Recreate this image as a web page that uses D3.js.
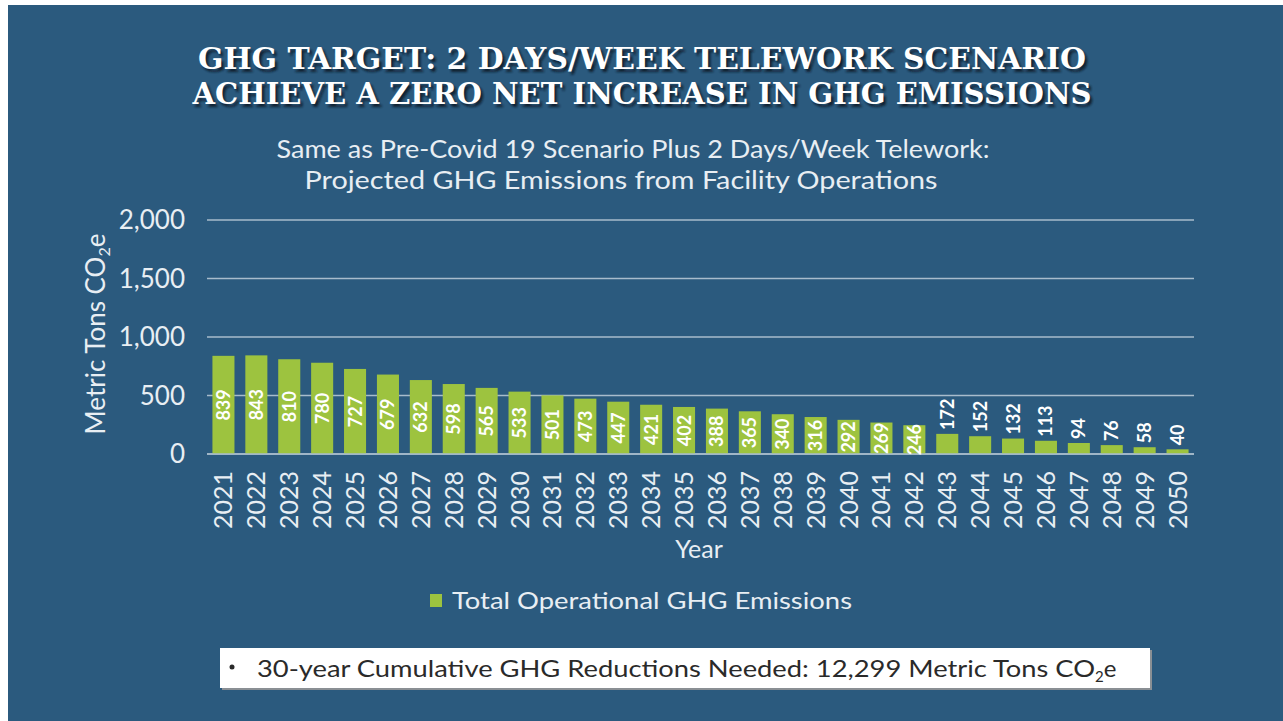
<!DOCTYPE html>
<html><head><meta charset="utf-8">
<script src="https://cdn.jsdelivr.net/npm/d3@7"></script>
<style>
html,body{margin:0;padding:0;background:#fff;}
svg{display:block;}
</style></head>
<body>
<script>
const years = ["2021","2022","2023","2024","2025","2026","2027","2028","2029","2030","2031","2032","2033","2034","2035","2036","2037","2038","2039","2040","2041","2042","2043","2044","2045","2046","2047","2048","2049","2050"];
const emissions = [839,843,810,780,727,679,632,598,565,533,501,473,447,421,402,388,365,340,316,292,269,246,172,152,132,113,94,76,58,40];
const yTicks = [0,500,1000,1500,2000];
const titleLines = ["GHG TARGET: 2 DAYS/WEEK TELEWORK SCENARIO","ACHIEVE A ZERO NET INCREASE IN GHG EMISSIONS"];
const subtitleLines = ["Same as Pre-Covid 19 Scenario Plus 2 Days/Week Telework:","Projected GHG Emissions from Facility Operations"];
const seriesName = "Total Operational GHG Emissions";
const noteText = "30-year Cumulative GHG Reductions Needed: 12,299 Metric Tons CO";

const W = 1283, H = 721;
const BG = "#2b5a7e", GREEN = "#9dc33f", GRID = "#a8bccc";
const FONT = "Lato, 'Open Sans', sans-serif";

const svg = d3.select("body").append("svg").attr("width", W).attr("height", H);
svg.append("rect").attr("x",0).attr("y",0).attr("width",W).attr("height",H).attr("fill","#fff");
svg.append("rect").attr("x",8).attr("y",5).attr("width",W-8).attr("height",H-5).attr("fill",BG);

// Title with shadow
const defs = svg.append("defs");
const f = defs.append("filter").attr("id","blur").attr("x","-5%").attr("y","-20%").attr("width","110%").attr("height","140%");
f.append("feGaussianBlur").attr("stdDeviation",1.2);
const titleY = [69, 104];
const titleW = [888, 899];
const titleX = [642, 642];
titleLines.forEach((t,i)=>{
  svg.append("text").attr("x",titleX[i]+2.5).attr("y",titleY[i]+2.5)
    .attr("text-anchor","middle").attr("font-family","'DejaVu Serif', serif").attr("font-weight","bold")
    .attr("font-size",30).attr("fill","#0e1c2a").attr("opacity",0.9).attr("filter","url(#blur)")
    .attr("textLength",titleW[i]).attr("lengthAdjust","spacingAndGlyphs").text(t);
  svg.append("text").attr("x",titleX[i]).attr("y",titleY[i])
    .attr("text-anchor","middle").attr("font-family","'DejaVu Serif', serif").attr("font-weight","bold")
    .attr("font-size",30).attr("fill","#ffffff")
    .attr("textLength",titleW[i]).attr("lengthAdjust","spacingAndGlyphs").text(t);
});

// Subtitle
const subY = [158, 189], subX = [633, 621], subW = [713, 633];
subtitleLines.forEach((t,i)=>{
  svg.append("text").attr("x",subX[i]).attr("y",subY[i]).attr("text-anchor","middle")
    .attr("font-family",FONT).attr("font-size",25).attr("fill","#e8eef3")
    .attr("textLength",subW[i]).attr("lengthAdjust","spacingAndGlyphs").text(t);
});

// Scales
const x = d3.scaleBand().domain(years).range([207,1194]).paddingInner(0.33).paddingOuter(0.165);
const y = d3.scaleLinear().domain([0,2000]).range([454,220]);

// Grid
svg.append("g").selectAll("line").data(yTicks).join("line")
  .attr("x1",207).attr("x2",1194).attr("y1",d=>y(d)).attr("y2",d=>y(d))
  .attr("stroke",GRID).attr("stroke-width",1.5);

// Y tick labels
svg.append("g").selectAll("text").data(yTicks).join("text")
  .attr("x",185).attr("y",d=>y(d)).attr("dy","0.35em").attr("text-anchor","end")
  .attr("font-family",FONT).attr("font-size",26).attr("fill","#e8eef3")
  .text(d=>d3.format(",")(d));

// Bars
svg.append("g").selectAll("rect").data(emissions).join("rect")
  .attr("x",(d,i)=>x(years[i])).attr("width",x.bandwidth())
  .attr("y",d=>y(d)).attr("height",d=>y(0)-y(d)).attr("fill",GREEN);

// redraw zero line on top
svg.append("line").attr("x1",207).attr("x2",1194).attr("y1",y(0)).attr("y2",y(0))
  .attr("stroke",GRID).attr("stroke-width",1.5);

// Value labels
svg.append("g").selectAll("text").data(emissions).join("text")
  .attr("transform",(d,i)=>{
    const cx = x(years[i]) + x.bandwidth()/2;
    const cy = d >= 200 ? (y(d)+y(0))/2 : y(d) - 4;
    return `translate(${cx},${cy}) rotate(-90)`;
  })
  .attr("text-anchor",d=> d>=200 ? "middle" : "start")
  .attr("dy","0.36em")
  .attr("font-family",FONT).attr("font-weight","bold").attr("font-size",18).attr("fill","#ffffff")
  .text(d=>d);

// X tick labels
svg.append("g").selectAll("text").data(years).join("text")
  .attr("transform",d=>`translate(${x(d)+x.bandwidth()/2},471) rotate(-90)`)
  .attr("text-anchor","end").attr("dy","0.36em")
  .attr("font-family",FONT).attr("font-size",25).attr("fill","#e8eef3")
  .text(d=>d);

// Axis titles
svg.append("text").attr("x",699).attr("y",558).attr("text-anchor","middle")
  .attr("font-family",FONT).attr("font-size",25).attr("fill","#e8eef3").text("Year");

const yt = svg.append("text").attr("transform","translate(105,334) rotate(-90)").attr("text-anchor","middle")
  .attr("font-family",FONT).attr("font-size",26).attr("fill","#e8eef3");
yt.append("tspan").text("Metric Tons CO");
yt.append("tspan").attr("font-size",16).attr("dy",5).text("2");
yt.append("tspan").attr("dy",-5).text("e");

// Legend
svg.append("rect").attr("x",430).attr("y",594).attr("width",12).attr("height",13).attr("fill",GREEN);
svg.append("text").attr("x",452).attr("y",609).attr("font-family",FONT).attr("font-size",24)
  .attr("fill","#e8eef3").attr("textLength",400).attr("lengthAdjust","spacingAndGlyphs").text(seriesName);

// Note box
svg.append("rect").attr("x",222).attr("y",650).attr("width",930).attr("height",40).attr("fill","#8a8f94");
svg.append("rect").attr("x",220).attr("y",648).attr("width",930).attr("height",40).attr("fill","#ffffff");
svg.append("circle").attr("cx",232).attr("cy",667).attr("r",2.5).attr("fill","#2a2a2a");
const nt = svg.append("text").attr("x",257).attr("y",677).attr("font-family",FONT).attr("font-size",24).attr("fill","#2a2a2a");
nt.append("tspan").attr("textLength",838).attr("lengthAdjust","spacingAndGlyphs").text(noteText);
nt.append("tspan").attr("font-size",15).attr("dy",5).text("2");
nt.append("tspan").attr("dy",-5).text("e");
</script>
</body></html>
